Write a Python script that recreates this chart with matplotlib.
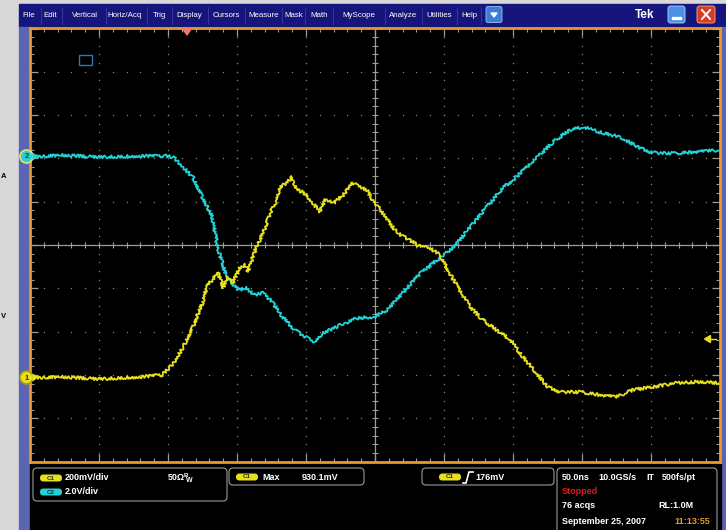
import numpy as np
import matplotlib.pyplot as plt
from matplotlib.patches import Rectangle, FancyBboxPatch, Circle, Polygon

plt.rcParams['font.family'] = ['Liberation Sans', 'DejaVu Sans']

# --- waveform data (time in ns, 0 = screen centre; volts) ---
c1_t = [-250, -228, -199, -170, -154, -146, -139, -132, -125, -122,
        -118, -114, -110, -107, -103, -98, -94, -92, -86, -81,
        -76, -71, -69, -64, -60, -57, -52, -45, -40, -36,
        -30, -23, -16, -11, -6, -1, 4, 9, 16, 25,
        33, 40, 47, 54, 62, 69, 78, 88, 98, 107,
        117, 125, 134, 149, 163, 175, 187, 201, 219, 233, 249]
c1_v = [0.0, 0.005, -0.005, 0.005, 0.014, 0.069, 0.143, 0.236, 0.346, 0.420,
        0.453, 0.490, 0.416, 0.467, 0.439, 0.508, 0.522, 0.490, 0.605, 0.670,
        0.762, 0.822, 0.882, 0.901, 0.928, 0.868, 0.859, 0.808, 0.767, 0.822,
        0.808, 0.845, 0.901, 0.882, 0.868, 0.813, 0.776, 0.730, 0.670, 0.637,
        0.605, 0.600, 0.568, 0.485, 0.397, 0.328, 0.268, 0.222, 0.176, 0.097,
        0.023, -0.042, -0.065, -0.065, -0.079, -0.088, -0.055, -0.042, -0.023, -0.018, -0.023]

c2_t = [-250, -228, -199, -170, -152, -146, -139, -132, -125, -118,
        -114, -109, -105, -99, -93, -88, -81, -74, -67, -58,
        -49, -43, -38, -25, -13, -1, 9, 20, 33, 45,
        57, 69, 81, 93, 100, 117, 129, 141, 151, 165,
        178, 192, 199, 207, 219, 230, 249]
c2_v = [0.0, 0.09, 0.0, 0.05, 0.05, 0.0, -0.46, -0.92, -1.85, -2.77,
        -4.16, -5.27, -5.73, -6.14, -6.05, -6.37, -6.28, -6.74, -7.39, -7.99,
        -8.36, -8.55, -8.13, -7.76, -7.44, -7.39, -7.07, -6.28, -5.36, -4.76,
        -4.16, -3.23, -2.31, -1.39, -1.06, -0.05, 0.69, 1.25, 1.39, 1.11,
        0.92, 0.42, 0.23, 0.18, 0.18, 0.23, 0.32]

ns_per_div = 50.0
c1_scale, c1_pos = 0.2, -3.07    # V/div, div offset
c2_scale, c2_pos = 2.0, 2.03

menu_items = ['File', 'Edit', 'Vertical', 'Horiz/Acq', 'Trig', 'Display', 'Cursors',
              'Measure', 'Mask', 'Math', 'MyScope', 'Analyze', 'Utilities', 'Help']
menu_x = [29, 50.5, 85, 124, 159.5, 189.5, 226, 263.5, 293.5, 319, 359, 403.5, 439.5, 469]
menu_sep = [41, 62, 106, 147, 172, 208, 245, 282, 305, 333, 385, 422, 457, 481]

YEL = '#e6e01e'
CYA = '#22d2d6'
ORANGE = '#e8982c'
GRID = '#a49c94'
PANEL = '#5a66b4'

fig = plt.figure(figsize=(7.26, 5.30), dpi=100)

# ---------- background chrome ----------
bg = fig.add_axes([0, 0, 1, 1])
bg.set_xlim(0, 726)
bg.set_ylim(530, 0)
bg.axis('off')
bg.add_patch(Rectangle((0, 0), 726, 530, color='#d8d8d8'))
bg.add_patch(Rectangle((19, 4), 707, 23, color='#15157c'))
bg.add_patch(Rectangle((19, 27), 11, 503, color=PANEL))
bg.add_patch(Rectangle((721, 27), 5, 503, color=PANEL))
bg.add_patch(Rectangle((30, 462), 691, 68, color='black'))

for name, x in zip(menu_items, menu_x):
    bg.text(x, 15.5, name, color='white', fontsize=5.7, ha='center', va='center')
for x in menu_sep:
    bg.plot([x, x], [7, 24], color='#3c3ca0', lw=0.6)

bg.add_patch(FancyBboxPatch((486, 6.5), 16, 16, boxstyle='round,pad=0,rounding_size=2',
                            fc='#3c7cd8', ec='#9cc0f0', lw=0.6))
bg.add_patch(Polygon([(491, 13), (497, 13), (494, 17)], color='white'))
bg.text(644.5, 15, 'Tek', color='white', fontsize=8.5, fontweight='bold', ha='center', va='center')
bg.add_patch(FancyBboxPatch((668, 6), 17, 17, boxstyle='round,pad=0,rounding_size=2.5',
                            fc='#4a90e4', ec='#b8d4f4', lw=0.6))
bg.add_patch(Rectangle((672, 17), 9, 2.2, color='white'))
bg.add_patch(FancyBboxPatch((697, 6), 18, 17, boxstyle='round,pad=0,rounding_size=2.5',
                            fc='#d83a22', ec='#f4b0a0', lw=0.6))
bg.plot([702, 710], [10, 19], color='white', lw=1.4)
bg.plot([702, 710], [19, 10], color='white', lw=1.4)

bg.text(0.5, 176, 'A', fontsize=5.5, fontweight='bold', ha='left', va='center', color='black')
bg.text(0.5, 316, 'V', fontsize=5.5, fontweight='bold', ha='left', va='center', color='black')


def badge(x, y, label, col):
    bg.add_patch(FancyBboxPatch((x, y - 3.5), 22, 7, boxstyle='round,pad=0,rounding_size=3.5',
                                fc=col, ec='none'))
    bg.text(x + 11, y, label, fontsize=4.5, fontweight='bold', ha='center', va='center',
            color='#303010' if col == YEL else '#103040')


def box(x0, y0, w, h):
    bg.add_patch(FancyBboxPatch((x0, y0), w, h, boxstyle='round,pad=0,rounding_size=4',
                                fc='black', ec='#9a9a9a', lw=0.8))


tkw = dict(fontsize=6.5, fontweight='bold', color='white', va='center')
box(33, 468, 194, 33)
badge(40, 478, 'C1', YEL)
bg.text(65, 478, '200mV/div', **tkw)
bg.text(168, 478, '50Ω', **tkw)
bg.text(184, 475.5, 'B', fontsize=4.5, fontweight='bold', color='white', va='center')
bg.text(186, 480.5, 'W', fontsize=5, fontweight='bold', color='white', va='center')
badge(40, 492, 'C2', CYA)
bg.text(65, 492, '2.0V/div', **tkw)

box(229, 468, 135, 17)
badge(236, 477, 'C1', YEL)
bg.text(262, 477, 'Max', **tkw)
bg.text(302, 477, '930.1mV', **tkw)

box(422, 468, 132, 17)
badge(439, 477, 'C1', YEL)
bg.plot([463, 466, 469, 473], [483, 483, 472, 472], color='white', lw=1.2)
bg.text(475, 477, '176mV', **tkw)

box(557, 468, 160, 70)
bg.text(562, 477, '50.0ns', **tkw)
bg.text(598, 477, '10.0GS/s', **tkw)
bg.text(646, 477, 'IT', **tkw)
bg.text(662, 477, '500fs/pt', **tkw)
bg.text(562, 491.5, 'Stopped', fontsize=6.5, fontweight='bold', color='#e01818', va='center')
bg.text(562, 506, '76 acqs', **tkw)
bg.text(658, 506, 'RL:1.0M', **tkw)
bg.text(562, 521, 'September 25, 2007', **tkw)
bg.text(710, 521, '11:13:55', fontsize=6.5, fontweight='bold', color='#e8982c', va='center', ha='right')

# ---------- scope graticule ----------
ax = fig.add_axes([30 / 726, (530 - 461.5) / 530, 690 / 726, 433 / 530])
ax.set_facecolor('black')
ax.set_xlim(-5 * ns_per_div, 5 * ns_per_div)
ax.set_ylim(-5, 5)

xmin = np.arange(-5, 5.01, 0.2) * ns_per_div
ymin = np.arange(-5, 5.01, 0.2)
for k in range(-4, 5):
    if k == 0:
        continue
    ax.plot([k * ns_per_div] * len(ymin), ymin, ls='none', marker='s', ms=0.9, mew=0, color='#8c8680')
    ax.plot(xmin, [k] * len(xmin), ls='none', marker='s', ms=0.9, mew=0, color='#8c8680')
ax.axhline(0, color=GRID, lw=0.9)
ax.axvline(0, color=GRID, lw=0.9)
ax.plot(xmin, np.zeros_like(xmin), ls='none', marker='|', ms=4.5, mew=0.8, color=GRID)
ax.plot(np.zeros_like(ymin), ymin, ls='none', marker='_', ms=4.5, mew=0.8, color=GRID)

ax.set_xticks(np.arange(-5, 6) * ns_per_div)
ax.set_xticks(xmin, minor=True)
ax.set_yticks(np.arange(-5, 6))
ax.set_yticks(ymin, minor=True)
ax.tick_params(which='both', direction='in', top=True, right=True, color=GRID,
               labelbottom=False, labelleft=False)
ax.tick_params(which='major', length=6, width=0.9)
ax.tick_params(which='minor', length=3, width=0.8)
for s in ax.spines.values():
    s.set_color(ORANGE)
    s.set_linewidth(2)

l2, = ax.plot(c2_t, np.array(c2_v) / c2_scale + c2_pos, color=CYA, lw=1.3)
l1, = ax.plot(c1_t, np.array(c1_v) / c1_scale + c1_pos, color=YEL, lw=1.3)
for ln in (l1, l2):
    ln.set_sketch_params(scale=1.5, length=3, randomness=3)

# ---------- overlay markers ----------
fg = fig.add_axes([0, 0, 1, 1], zorder=5)
fg.set_xlim(0, 726)
fg.set_ylim(530, 0)
fg.axis('off')
fg.patch.set_alpha(0)
fg.add_patch(Rectangle((79, 55), 13, 9.5, fc='none', ec='#2a78b8', lw=1))
fg.add_patch(Polygon([(182.5, 28.5), (191.5, 28.5), (187, 35)], color='#f07a64'))
fg.add_patch(Polygon([(704.5, 339), (710.5, 335.5), (710.5, 342.5)], color=YEL))
fg.plot([710, 716], [339, 339], color=YEL, lw=1)
fg.add_patch(Circle((26.5, 156.5), 6.5, fc=CYA, ec='#e8e070', lw=1.2))
fg.text(26.5, 157, '2', fontsize=5.5, fontweight='bold', ha='center', va='center', color='#204040')
fg.add_patch(Polygon([(33, 153.5), (37, 156.5), (33, 159.5)], color=CYA))
fg.add_patch(Circle((26.5, 377.5), 6.5, fc=YEL, ec='#a89810', lw=1.2))
fg.text(26.5, 378, '1', fontsize=5.5, fontweight='bold', ha='center', va='center', color='#303010')
fg.add_patch(Polygon([(33, 374.5), (37, 377.5), (33, 380.5)], color=YEL))

fig.savefig('out.png', dpi=100)
